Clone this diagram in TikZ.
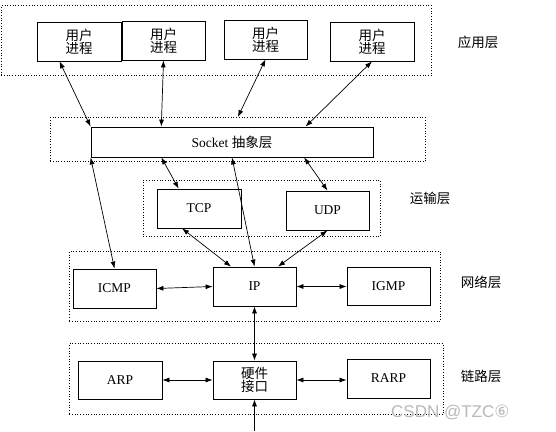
\documentclass[tikz,border=0pt]{standalone}
\usepackage{fontspec}
\setmainfont{Liberation Serif}
\newfontfamily\cjk{Noto Sans CJK SC}
\newfontfamily\wmfont{Liberation Sans}
\newfontfamily\symfont{DejaVu Sans}
\usetikzlibrary{calc,arrows.meta}
\begin{document}
\begin{tikzpicture}[x=1pt,y=-1pt,
  box/.style={draw,line width=0.8pt,minimum width=83pt,minimum height=39pt,inner sep=0pt,align=center,font=\fontsize{13.5}{14}\selectfont,anchor=center},
  layer/.style={draw,dotted,line width=0.7pt,inner sep=0pt,anchor=north west},
  lbl/.style={font=\cjk\fontsize{13.5}{14}\selectfont},
  dbl/.style={line width=0.7pt,{Latex[length=7pt,width=5pt]}-{Latex[length=7pt,width=5pt]}},
  sgl/.style={line width=0.7pt,-{Latex[length=7pt,width=5pt]}}]
\useasboundingbox[fill=white] (0,0) rectangle (556,431);
% layer frames
\node[layer,minimum width=430pt,minimum height=70pt] (appL) at (1,5) {};
\node[layer,minimum width=375pt,minimum height=44pt] (sockL) at (50,117) {};
\node[layer,minimum width=237pt,minimum height=56pt] (tranL) at (143,180) {};
\node[layer,minimum width=371pt,minimum height=70pt] (netL) at (69,251) {};
\node[layer,minimum width=374pt,minimum height=71pt] (linkL) at (69,343) {};
% boxes
\node[box,minimum width=84pt] (u1) at (79,41.5) {\cjk 用户\\[-1pt]\cjk 进程};
\node[box] (u2) at (163.5,40.5) {\cjk 用户\\[-1pt]\cjk 进程};
\node[box] (u3) at (265.5,39.5) {\cjk 用户\\[-1pt]\cjk 进程};
\node[box,minimum width=84pt] (u4) at (372,41.5) {\cjk 用户\\[-1pt]\cjk 进程};
\node[box,minimum width=282pt,minimum height=30pt] (sock) at (232,142) {Socket {\cjk 抽象层}};
\node[box,minimum width=84pt] (tcp) at (199,208.5) {TCP};
\node[box] (udp) at (327.5,210.5) {UDP};
\node[box] (icmp) at (114.5,288.5) {ICMP};
\node[box] (ip) at (254.5,286.5) {IP};
\node[box,minimum height=38pt] (igmp) at (388.5,286) {IGMP};
\node[box,minimum width=84pt,minimum height=38pt] (arp) at (120,380) {ARP};
\node[box,minimum height=38pt] (hw) at (254.5,380) {\cjk 硬件\\[-1pt]\cjk 接口};
\node[box] (rarp) at (388.5,378.5) {RARP};
% labels
\node[lbl] (lapp) at (478,42) {应用层};
\node[lbl] (ltran) at (430,198) {运输层};
\node[lbl] (lnet) at (481,282) {网络层};
\node[lbl] (llink) at (481,376) {链路层};
% connectors
\draw[dbl] ($(u1.south west)!0.27!(u1.south east)$) -- (sock.north west);
\draw[dbl] (u2.south) -- ($(sock.north west)!0.25!(sock.north east)$);
\draw[dbl] (u3.south) -- (sockL.north);
\draw[dbl] (u4.south) -- ($(sock.north west)!0.76!(sock.north east)$);
\draw[dbl] ($(sock.south west)!0.25!(sock.south east)$) -- ($(tcp.north west)!0.26!(tcp.north east)$);
\draw[dbl] (sock.south) -- (ip.north);
\draw[dbl] ($(sock.south west)!0.755!(sock.south east)$) -- (udp.north);
\draw[dbl] (sock.south west) -- (icmp.north);
\draw[dbl] ($(tcp.south west)!0.3!(tcp.south east)$) -- ($(ip.north west)!0.22!(ip.north east)$);
\draw[dbl] (udp.south) -- ($(ip.north west)!0.78!(ip.north east)$);
\draw[dbl] (icmp.east) -- (ip.west);
\draw[dbl] (ip.east) -- (igmp.west |- ip.east);
\draw[dbl] (ip.south) -- (hw.north);
\draw[dbl] (arp.east) -- (hw.west);
\draw[dbl] (hw.east) -- (rarp.west |- hw.east);
\coordinate (bot) at (254.5,431);
\draw[sgl] (bot) -- (hw.south);
% watermark
\node[text=gray!55,font=\wmfont\fontsize{17}{17}\selectfont,anchor=west,inner sep=0pt] (wm) at (391,412) {CSDN @TZC{\symfont ⑥}};
\end{tikzpicture}
\end{document}
